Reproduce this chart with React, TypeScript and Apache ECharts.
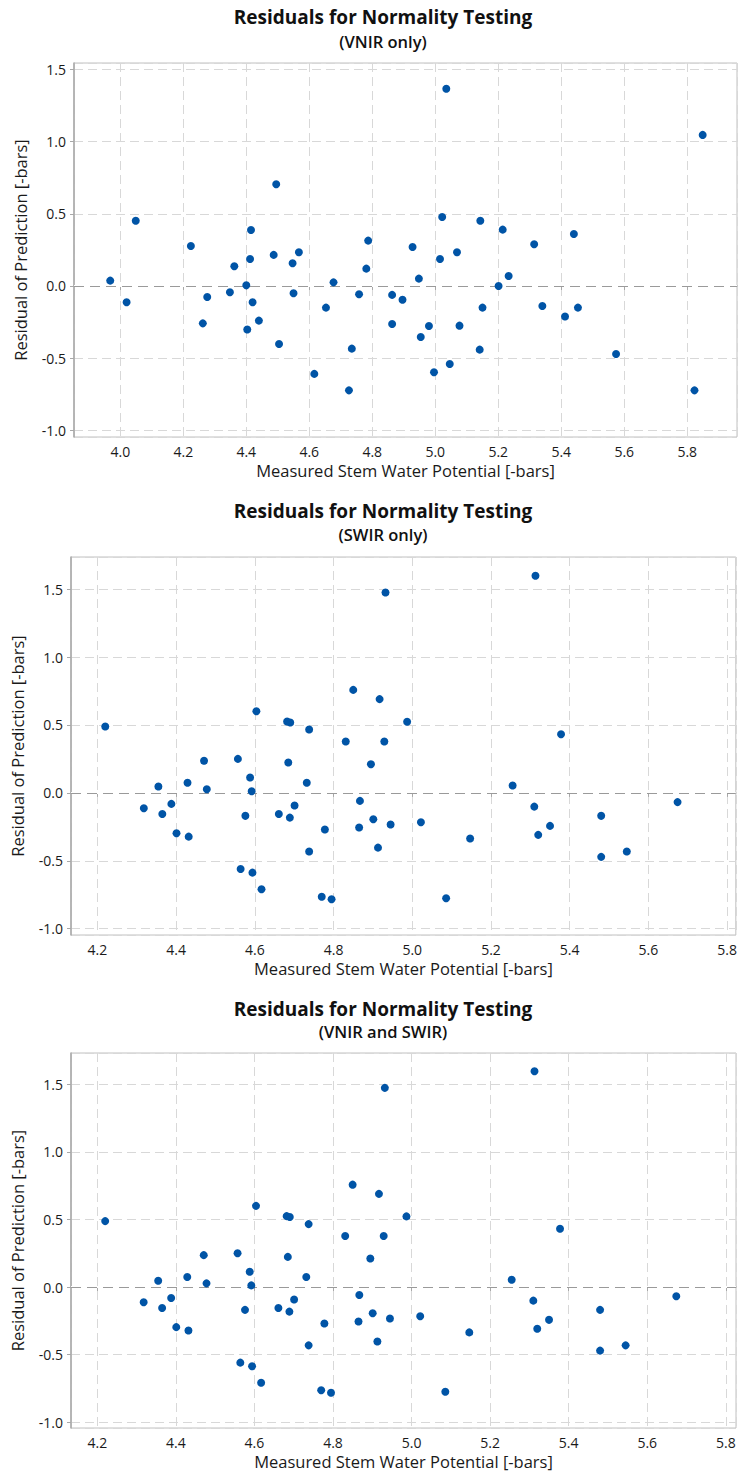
import React, { useEffect, useRef } from "react";
import * as echarts from "echarts";

// ---- Data: VNIR only ----
const vnirX = [
  3.968, 4.02, 4.049, 4.224, 4.276, 4.262, 4.348, 4.362, 4.4, 4.412, 4.415, 4.42, 4.403, 4.44,
  4.487, 4.495, 4.504, 4.547, 4.567, 4.55, 4.616, 4.653, 4.677, 4.735, 4.726, 4.758, 4.781,
  4.787, 4.863, 4.863, 4.896, 5.035, 5.849, 5.022, 5.143, 5.214, 5.44, 4.928, 5.314, 5.069,
  5.015, 4.948, 5.233, 5.201, 5.15, 5.34, 5.453, 5.412, 4.98, 5.077, 4.954, 5.141, 5.046,
  4.996, 5.574, 5.823,
];
const vnirY = [
  0.037, -0.113, 0.452, 0.277, -0.076, -0.259, -0.044, 0.136, 0.005, 0.187, 0.388, -0.113,
  -0.302, -0.24, 0.215, 0.704, -0.402, 0.157, 0.233, -0.051, -0.609, -0.15, 0.025, -0.434,
  -0.723, -0.058, 0.12, 0.314, -0.062, -0.263, -0.095, 1.366, 1.046, 0.478, 0.452, 0.39, 0.36,
  0.27, 0.289, 0.233, 0.187, 0.051, 0.069, 0.0, -0.15, -0.139, -0.15, -0.212, -0.277, -0.275,
  -0.353, -0.441, -0.54, -0.598, -0.471, -0.723,
];

// ---- Data: SWIR only ----
const swirX = [
  4.22, 4.318, 4.355, 4.365, 4.388, 4.401, 4.429, 4.432, 4.471, 4.478, 4.557, 4.564, 4.576,
  4.588, 4.592, 4.594, 4.604, 4.617, 4.661, 4.682, 4.69, 4.685, 4.689, 4.701, 4.732, 4.738,
  4.738, 4.77, 4.778, 4.795, 4.831, 4.85, 4.865, 4.867, 4.895, 4.901, 4.913, 4.917, 4.929,
  4.932, 4.945, 4.987, 5.022, 5.086, 5.147, 5.255, 5.31, 5.313, 5.32, 5.35, 5.378, 5.48, 5.48,
  5.545, 5.674,
];
const swirY = [
  0.488, -0.113, 0.047, -0.155, -0.081, -0.297, 0.074, -0.322, 0.236, 0.027, 0.25, -0.56,
  -0.169, 0.113, 0.012, -0.587, 0.601, -0.709, -0.155, 0.525, 0.518, 0.223, -0.182, -0.093,
  0.074, 0.466, -0.432, -0.764, -0.27, -0.783, 0.378, 0.758, -0.255, -0.059, 0.211, -0.194,
  -0.403, 0.69, 0.378, 1.475, -0.233, 0.523, -0.216, -0.776, -0.336, 0.054, -0.101, 1.598,
  -0.309, -0.243, 0.432, -0.169, -0.471, -0.432, -0.068,
];

// ---- Data: VNIR and SWIR ----
const bothX = swirX.slice();
const bothY = swirY.slice();

const subtitles = ["(VNIR only)", "(SWIR only)", "(VNIR and SWIR)"];
const mainTitle = "Residuals for Normality Testing";
const xName = "Measured Stem Water Potential [-bars]";
const yName = "Residual of Prediction [-bars]";

const FONT = "'Open Sans', 'Noto Sans', sans-serif";
const DOT = "#0054A6";

const panels = [
  { x: vnirX, y: vnirY, grid: { left: 74, top: 63, width: 663, height: 374 }, xr: [3.853, 5.958], yr: [-1.046, 1.544], tY: 17, sY: 41 },
  { x: swirX, y: swirY, grid: { left: 71, top: 557, width: 666, height: 378 }, xr: [4.133, 5.822], yr: [-1.046, 1.736], tY: 511, sY: 534 },
  { x: bothX, y: bothY, grid: { left: 71, top: 1053, width: 665, height: 375 }, xr: [4.133, 5.826], yr: [-1.044, 1.733], tY: 1009, sY: 1031 },
];

export default function App() {
  const ref = useRef<HTMLDivElement>(null);
  useEffect(() => {
    if (!ref.current) return;
    const chart = echarts.init(ref.current, null, { renderer: "svg" });
    const splitLine = { show: true, lineStyle: { color: "#d8d8d8", type: [9, 5], width: 1 } };
    const axisLine = { show: true, lineStyle: { color: "#a8a8a8", width: 1.5 } };
    const axisTick = { show: true, length: 4, lineStyle: { color: "#a8a8a8" } };
    const labelBase = { color: "#1a1a1a", fontFamily: FONT, fontSize: 14, showMinLabel: false, showMaxLabel: false };
    const nameStyle = { color: "#1a1a1a", fontFamily: FONT, fontSize: 16.5 };

    const grid = panels.map((p) => ({ ...p.grid, show: true, borderColor: "#c0c0c0", borderWidth: 1, containLabel: false }));
    const xAxis = panels.map((p, i) => ({
      type: "value",
      gridIndex: i,
      min: p.xr[0],
      max: p.xr[1],
      minInterval: 0.2,
      maxInterval: 0.2,
      axisLine,
      axisTick,
      splitLine,
      axisLabel: { ...labelBase, margin: 7, formatter: (v: number) => v.toFixed(1) },
      name: xName,
      nameLocation: "middle",
      nameGap: 25,
      nameTextStyle: nameStyle,
    }));
    const yAxis = panels.map((p, i) => ({
      type: "value",
      gridIndex: i,
      min: p.yr[0],
      max: p.yr[1],
      minInterval: 0.5,
      maxInterval: 0.5,
      axisLine,
      axisTick,
      splitLine,
      axisLabel: { ...labelBase, margin: 8, formatter: (v: number) => v.toFixed(1) },
      name: yName,
      nameLocation: "middle",
      nameGap: 45,
      nameTextStyle: nameStyle,
    }));
    const series = panels.map((p, i) => ({
      type: "scatter",
      xAxisIndex: i,
      yAxisIndex: i,
      symbol: "circle",
      symbolSize: 8,
      z: 3,
      itemStyle: { color: DOT, opacity: 1 },
      data: p.x.map((xv, k) => [xv, p.y[k]]),
      markLine: {
        silent: true,
        symbol: "none",
        label: { show: false },
        z: 1,
        data: [
          { yAxis: 0, lineStyle: { color: "#ffffff", type: "solid", width: 2 } },
          { yAxis: 0, lineStyle: { color: "#9a9a9a", type: [10, 6], width: 1 } },
        ],
      },
    }));
    const graphic: any[] = [];
    panels.forEach((p, i) => {
      graphic.push({
        type: "text",
        x: 383,
        y: p.tY,
        style: { text: mainTitle, fill: "#111", font: `bold 19px ${FONT}`, align: "center", verticalAlign: "middle", textAlign: "center", textVerticalAlign: "middle" },
      });
      graphic.push({
        type: "text",
        x: 383,
        y: p.sY,
        style: { text: subtitles[i], fill: "#111", font: `600 16.5px ${FONT}`, align: "center", verticalAlign: "middle", textAlign: "center", textVerticalAlign: "middle" },
      });
    });

    chart.setOption({
      animation: false,
      backgroundColor: "#fff",
      grid,
      xAxis,
      yAxis,
      series,
      graphic,
    });
    return () => chart.dispose();
  }, []);
  return <div ref={ref} style={{ position: "absolute", left: 0, top: 0, width: 740, height: 1476 }} />;
}
